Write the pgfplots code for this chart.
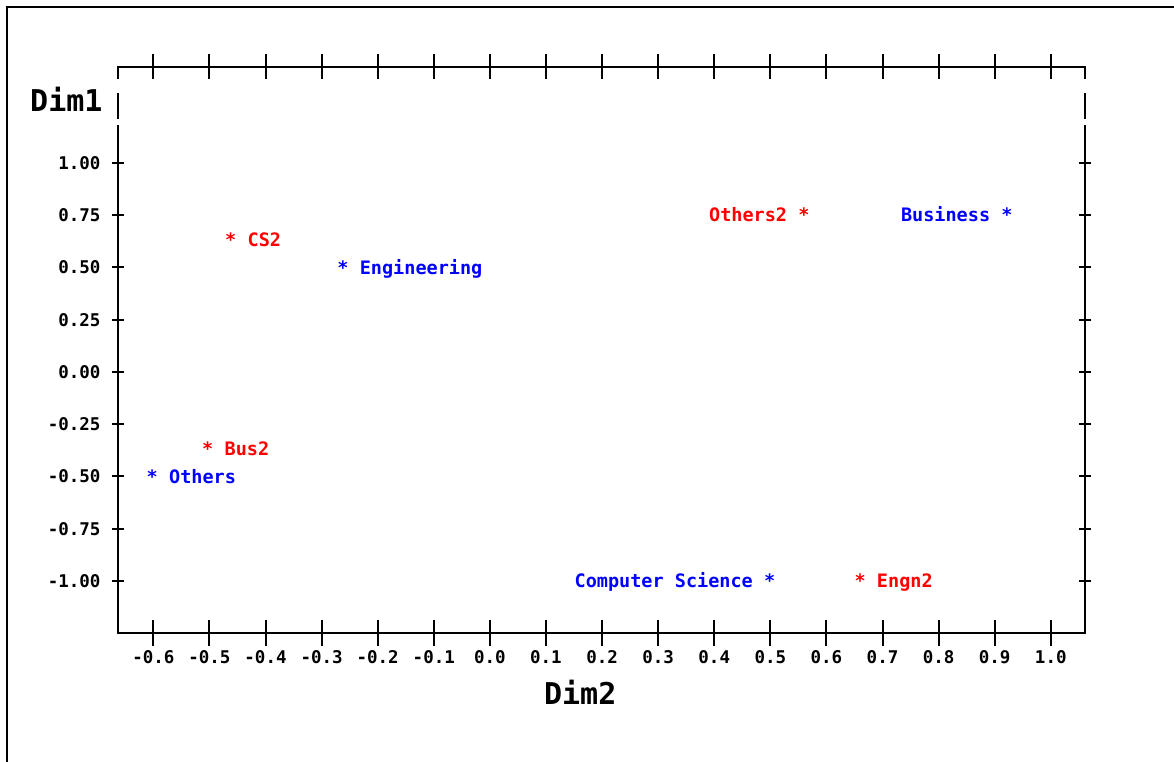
\documentclass[border=0pt]{standalone}
\usepackage{fontspec}
\setmainfont{DejaVu Sans Mono}
\usepackage{pgfplots}
\pgfplotsset{compat=1.18}
\definecolor{sasblue}{RGB}{0,0,255}
\definecolor{sasred}{RGB}{255,0,0}
\newcommand{\lblfont}{\fontsize{18.5}{21}\selectfont\bfseries}
\newcommand{\tickfont}{\fontsize{17.5}{20}\selectfont\bfseries}
\newcommand{\dimfont}{\fontsize{30}{34}\selectfont\bfseries}
\pgfplotsset{
  rlab/.style={only marks, mark=text, text mark={*}, text mark as node=true,
    text mark style={font=\lblfont, inner sep=0pt, anchor=base, yshift=-6.7pt},
    nodes near coords, point meta=explicit symbolic,
    nodes near coords style={font=\lblfont, inner sep=0pt, anchor=base west, xshift=16.7pt, yshift=-6.7pt}},
  llab/.style={only marks, mark=text, text mark={*}, text mark as node=true,
    text mark style={font=\lblfont, inner sep=0pt, anchor=base, yshift=-6.7pt},
    nodes near coords, point meta=explicit symbolic,
    nodes near coords style={font=\lblfont, inner sep=0pt, anchor=base east, xshift=-16.7pt, yshift=-6.7pt}},
}
\begin{document}
\begin{tikzpicture}[x=1pt,y=1pt]
\useasboundingbox (0,0) rectangle (1174,762);
\draw[line width=2.2pt] (7,0) -- (7,755) -- (1174,755);
\begin{axis}[
  at={(118pt,129pt)}, anchor=south west,
  scale only axis, width=967pt, height=566pt,
  xmin=-0.663, xmax=1.061, ymin=-1.249, ymax=1.459,
  clip=false,
  axis line style={line width=2pt},
  xtick={-0.6,-0.5,-0.4,-0.3,-0.2,-0.1,0,0.1,0.2,0.3,0.4,0.5,0.6,0.7,0.8,0.9,1.0},
  ytick={-1,-0.75,-0.5,-0.25,0,0.25,0.5,0.75,1},
  tick align=center, xtick pos=both, ytick pos=both,
  xticklabel pos=lower, yticklabel pos=left,
  major tick length=12pt,
  every tick/.style={line width=2pt, black},
  xtick style={line width=2pt, black, /pgfplots/major tick length=25pt},
  ytick style={line width=2pt, black},
  /pgf/number format/assume math mode=true,
  tick label style={font=\tickfont},
  xticklabel style={/pgf/number format/fixed, /pgf/number format/fixed zerofill, /pgf/number format/precision=1, yshift=-8pt},
  yticklabel style={/pgf/number format/fixed, /pgf/number format/fixed zerofill, /pgf/number format/precision=2, xshift=-8pt},
  xlabel={Dim2},
  xlabel style={font=\dimfont, at={(axis description cs:0.478,-0.127)}, anchor=base},
  ylabel={Dim1},
  ylabel style={font=\dimfont, rotate=-90, at={(axis description cs:-0.0124,0.922)}, anchor=base east},
]
\addplot[rlab, color=sasblue] table[row sep=\\, col sep=comma, meta=label] {
x,y,label\\
-0.262,0.50,Engineering\\
-0.602,-0.50,Others\\
};
\addplot[llab, color=sasblue] table[row sep=\\, col sep=comma, meta=label] {
x,y,label\\
0.922,0.75,Business\\
0.499,-1.00,Computer Science\\
};
\addplot[rlab, color=sasred] table[row sep=\\, col sep=comma, meta=label] {
x,y,label\\
-0.462,0.63,CS2\\
-0.503,-0.37,Bus2\\
0.660,-1.00,Engn2\\
};
\addplot[llab, color=sasred] table[row sep=\\, col sep=comma, meta=label] {
x,y,label\\
0.560,0.75,Others2\\
};
\draw[white, line width=4pt] (axis description cs:0,0.954) -- (axis description cs:0,0.979);
\draw[white, line width=4pt] (axis description cs:0,0.898) -- (axis description cs:0,0.908);
\draw[white, line width=4pt] (axis description cs:1,0.954) -- (axis description cs:1,0.979);
\draw[white, line width=4pt] (axis description cs:1,0.898) -- (axis description cs:1,0.908);
\end{axis}
\end{tikzpicture}
\end{document}
